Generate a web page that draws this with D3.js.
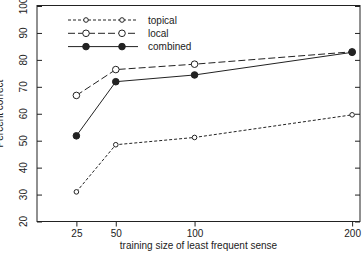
<!DOCTYPE html>
<html><head><meta charset="utf-8">
<script src="https://cdn.jsdelivr.net/npm/d3@7"></script>
<style>
body{margin:0;background:#fff;}
text{font-family:"Liberation Sans",Arial,sans-serif;fill:#222;}
</style></head>
<body><svg id="c" width="364" height="256"></svg>
<script>
const sizes = [25, 50, 100, 200];
const topical = [31, 48.5, 51.2, 59.6];
const local = [66.8, 76.4, 78.4, 83.0];
const combined = [51.8, 71.9, 74.4, 82.8];
const seriesNames = ["topical", "local", "combined"];
const yTicks = [20, 30, 40, 50, 60, 70, 80, 90, 100];
const xTicks = [25, 50, 100, 200];

const svg = d3.select("#c");
const L = 37, R = 360, T = 5.5, B = 221.5;
const x = d3.scaleLinear().domain([0, 205]).range([L, R]);
const y = d3.scaleLinear().domain([20, 100]).range([B, T + 0.5]);
const ink = "#222";

// box
svg.append("rect").attr("x", L).attr("y", T).attr("width", R - L).attr("height", B - T)
  .attr("fill", "none").attr("stroke", ink).attr("stroke-width", 1);

// y axis (ticks inward on left & right)
const yl = svg.append("g").attr("transform", `translate(${L},0)`)
  .call(d3.axisRight(y).tickValues(yTicks).tickSize(5).tickFormat(""));
yl.select(".domain").remove();
yl.selectAll("line").attr("stroke", ink);
const yr = svg.append("g").attr("transform", `translate(${R},0)`)
  .call(d3.axisLeft(y).tickValues(yTicks).tickSize(5).tickFormat(""));
yr.select(".domain").remove();
yr.selectAll("line").attr("stroke", ink);
svg.selectAll(".ylab").data(yTicks).enter().append("text")
  .attr("transform", d => `translate(27,${y(d)}) rotate(-90)`)
  .attr("text-anchor", "middle").attr("font-size", 10).text(d => d);
svg.append("text").attr("transform", `translate(3,${(T + B) / 2}) rotate(-90)`)
  .attr("text-anchor", "middle").attr("font-size", 10).text("Percent correct");

// x axis ticks outward
const xa = svg.append("g").attr("transform", `translate(0,${B})`)
  .call(d3.axisBottom(x).tickValues(xTicks).tickSize(5).tickPadding(3).tickFormat(d => d));
xa.select(".domain").remove();
xa.selectAll("line").attr("stroke", ink);
xa.selectAll("text").attr("font-size", 10).attr("font-family", '"Liberation Sans",Arial,sans-serif').attr("fill", ink);
svg.append("text").attr("x", (L + R) / 2).attr("y", 249).attr("text-anchor", "middle")
  .attr("font-size", 10).text("training size of least frequent sense");

const styles = {
  topical: {dash: "3,2", r: 2.3, fill: "#fff"},
  local: {dash: "7,3", r: 3.3, fill: "#fff"},
  combined: {dash: null, r: 3.3, fill: ink}
};
const data = {topical, local, combined};
const line = d3.line().x((d, i) => x(sizes[i])).y(d => y(d));

seriesNames.forEach(name => {
  const st = styles[name];
  svg.append("path").datum(data[name]).attr("d", line)
    .attr("fill", "none").attr("stroke", ink).attr("stroke-width", 1)
    .attr("stroke-dasharray", st.dash);
  svg.selectAll(".pt-" + name).data(data[name]).enter().append("circle")
    .attr("cx", (d, i) => x(sizes[i])).attr("cy", d => y(d)).attr("r", st.r)
    .attr("fill", st.fill).attr("stroke", ink).attr("stroke-width", 1);
});

// legend
const lgX1 = 68, lgX2 = 138, lgM = [86, 122], lgY0 = 20, lgDy = 13.3;
seriesNames.forEach((name, k) => {
  const st = styles[name];
  const yy = lgY0 + k * lgDy;
  svg.append("line").attr("x1", lgX1).attr("x2", lgX2).attr("y1", yy).attr("y2", yy)
    .attr("stroke", ink).attr("stroke-width", 1).attr("stroke-dasharray", st.dash);
  lgM.forEach(mx => svg.append("circle").attr("cx", mx).attr("cy", yy).attr("r", st.r)
    .attr("fill", st.fill).attr("stroke", ink).attr("stroke-width", 1));
  svg.append("text").attr("x", 148).attr("y", yy + 3.5).attr("font-size", 10).text(name);
});
</script></body></html>
